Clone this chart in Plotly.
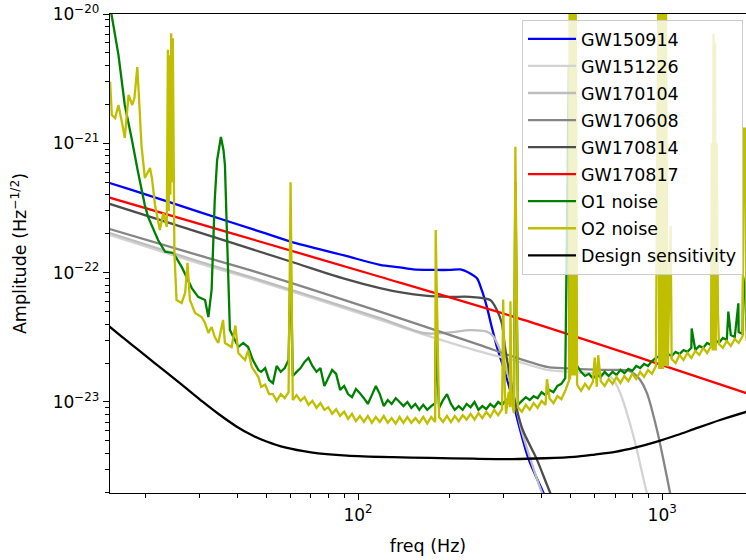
import numpy as np
import plotly.graph_objects as go

# ---------------- data ----------------
gw150914_f = [15, 18, 30, 49.4, 60, 90, 118, 137, 152, 177, 200, 217, 233, 246, 255, 265, 275, 286, 300, 316,
              328, 341, 364, 407, 440]
gw150914_a = [5.0e-22, 4.37e-22, 2.95e-22, 2.02e-22, 1.74e-22, 1.36e-22, 1.15e-22, 1.10e-22, 1.06e-22, 1.05e-22,
              1.05e-22, 1.06e-22, 9.9e-23, 9.05e-23, 7.35e-23, 5.46e-23, 3.82e-23, 2.68e-23, 1.88e-23, 1.24e-23,
              8.7e-24, 6.1e-24, 3.6e-24, 1.98e-24, 1.3e-24]

gw151226_f = [15, 30, 45.8, 118, 166, 252, 324, 418, 537, 658, 692, 728, 805, 891, 930]
gw151226_a = [1.98e-22, 1.18e-22, 8.8e-23, 4.31e-23, 3.3e-23, 2.45e-23, 2.11e-23, 1.77e-23, 1.69e-23, 1.62e-23,
              1.48e-23, 1.17e-23, 5.4e-24, 1.97e-24, 1.4e-24]

gw170104_f = [15, 30, 46, 118, 166, 200, 233, 265, 279, 293, 308, 322, 345, 375, 403, 430]
gw170104_a = [2.05e-22, 1.22e-22, 9.0e-23, 4.45e-23, 3.4e-23, 3.45e-23, 3.6e-23, 3.5e-23, 3.2e-23, 2.52e-23,
              1.77e-23, 1.2e-23, 6.0e-24, 3.2e-24, 1.98e-24, 1.5e-24]

gw170608_f = [15, 30, 45.8, 118, 166, 252, 324, 418, 486, 600, 692, 765, 810, 847, 891, 961, 1036, 1062, 1100]
gw170608_a = [2.2e-22, 1.36e-22, 1.02e-22, 5.0e-23, 3.82e-23, 2.75e-23, 2.24e-23, 1.87e-23, 1.82e-23, 1.78e-23,
              1.77e-23, 1.76e-23, 1.65e-23, 1.48e-23, 1.17e-23, 6.1e-24, 2.64e-24, 1.97e-24, 1.4e-24]

gw170814_f = [15, 30, 60, 90, 118, 140, 166, 200, 233, 272, 286, 297, 304, 316, 331, 348, 387, 429, 460]
gw170814_a = [3.45e-22, 2.05e-22, 1.22e-22, 9.0e-23, 7.6e-23, 7.0e-23, 6.65e-23, 6.5e-23, 6.5e-23, 6.15e-23,
              5.15e-23, 4.06e-23, 2.68e-23, 1.57e-23, 9.2e-24, 6.07e-24, 3.6e-24, 1.97e-24, 1.4e-24]

gw170817_f = [15, 40, 118, 324, 891, 2000]
gw170817_a = [3.85e-22, 1.96e-22, 9.3e-23, 4.57e-23, 2.11e-23, 1.12e-23]

design_f = [15, 17, 18.9, 21.5, 24.4, 27.5, 30.9, 34.7, 39.7, 45, 50, 57.5, 70, 92, 130, 172.5, 240, 321, 410,
            513, 600, 700, 820, 955, 1120, 1303, 1550, 1888, 2000]
design_a = [3.95e-23, 3.1e-23, 2.54e-23, 1.99e-23, 1.57e-23, 1.25e-23, 1.0e-23, 8.1e-24, 6.5e-24, 5.5e-24,
            4.95e-24, 4.45e-24, 4.08e-24, 3.85e-24, 3.74e-24, 3.69e-24, 3.64e-24, 3.62e-24, 3.67e-24,
            3.76e-24, 3.92e-24, 4.11e-24, 4.45e-24, 4.91e-24, 5.55e-24, 6.3e-24, 7.25e-24, 8.37e-24, 8.7e-24]

# noise spectra: low-frequency part, common frequency grid, and narrow lines
o1_low_f = [15.3, 16.3, 17.1, 18.0, 18.9, 19.9, 20.4, 22.0, 23.2, 24.7, 26.3, 28.4, 29.8, 31.4, 32.2, 33.0, 33.8,
            34.4, 35.4, 36.1, 36.5, 37.2, 37.9, 40.4, 41.9, 43.5, 45.1, 47.0]
o1_low_a = [1.15e-20, 4.83e-21, 1.98e-21, 1.10e-21, 6.0e-22, 3.34e-22, 2.7e-22, 1.79e-22, 1.45e-22, 1.42e-22,
            1.11e-22, 7.6e-23, 6.5e-23, 6.15e-23, 4.54e-23, 7.4e-23, 3.7e-22, 7.4e-22, 1.12e-21, 8.9e-22,
            6.8e-22, 1.5e-22, 3.6e-23, 2.66e-23, 2.86e-23, 2.66e-23, 2.11e-23, 1.77e-23]

o2_low_f = [15.3, 15.5, 15.9, 16.3, 16.8, 17.1, 17.6, 18.1, 18.4, 18.8, 19.1, 19.4, 19.9, 20.7, 21.0, 21.5, 22.3,
            22.9, 23.5, 23.7, 23.85, 24.0, 24.15, 24.3, 24.45, 24.6, 24.9, 25.3, 26.3, 27.0, 27.5, 28.0, 29.1,
            30.6, 31.4, 32.2, 33.0, 33.8, 34.7, 36.0, 36.5, 38.4, 39.5, 40.4, 42.5, 43.5, 44.7, 47.0]
o2_low_a = [3.0e-21, 1.66e-21, 1.57e-21, 1.98e-21, 1.39e-21, 1.10e-21, 2.37e-21, 1.98e-21, 2.25e-21, 3.90e-21,
            1.98e-21, 9.7e-22, 5.4e-22, 6.45e-22, 5.4e-22, 3.34e-22, 2.14e-22, 2.90e-22, 2.26e-22, 5.3e-21,
            3.0e-22, 4.8e-21, 4.0e-22, 7.1e-21, 5.0e-22, 6.5e-21, 1.42e-22, 6.15e-23, 5.83e-23, 6.97e-23,
            1.19e-22, 6.15e-23, 4.88e-23, 4.54e-23, 4.08e-23, 3.42e-23, 3.80e-23, 3.18e-23, 2.86e-23, 4.31e-23,
            2.86e-23, 2.66e-23, 3.9e-23, 2.39e-23, 2.11e-23, 2.5e-23, 1.87e-23, 1.56e-23]

noise_freq = [48, 49.5, 51, 52.5, 54, 55.7, 57.4, 59.1, 61, 62.8,
              64.7, 66.7, 68.7, 70.8, 73, 75.2, 77.5, 79.8, 82.2, 84.7,
              87.3, 90, 92.7, 95.5, 98.4, 101.4, 104.5, 107.7, 111, 114.4,
              117.9, 121.5, 125.2, 129, 133, 137, 141, 145.3, 149.7, 154.3,
              159, 163.8, 168.8, 174, 179.3, 184.7, 190.3, 196.1, 202, 208,
              214.3, 220.8, 227.5, 234.4, 241.5, 248.8, 256.3, 264, 272, 280.3,
              288.8, 297.6, 306.6, 315.9, 325.5, 335.4, 345.6, 356, 366.8, 377.9,
              389.4, 401.2, 413.4, 426, 439, 452.3, 466, 480, 494.5, 509.5,
              525, 541, 557.4, 574.3, 591.7, 609.6, 628, 647, 666.6, 686.8,
              707.6, 729, 751, 773.8, 797.2, 821.3, 846.2, 871.8, 898.2, 925.4,
              953.4, 982.3, 1012, 1043, 1074, 1107, 1140, 1175, 1210, 1247,
              1285, 1324, 1364, 1405, 1448, 1492, 1537, 1583, 1631, 1681,
              1732, 1784, 1838, 1894, 1951, 2000]

o1_band = [1.71e-23, 1.83e-23, 1.48e-23, 1.40e-23, 1.90e-23, 1.71e-23, 1.83e-23, 2.11e-23, 1.59e-23, 1.71e-23,
           1.83e-23, 2.04e-23, 2.19e-23, 1.90e-23, 1.71e-23, 1.83e-23, 1.33e-23, 1.53e-23, 1.77e-23, 1.65e-23,
           1.24e-23, 1.33e-23, 1.15e-23, 1.09e-23, 1.26e-23, 1.17e-23, 1.07e-23, 9.65e-24, 1.13e-23, 1.33e-23,
           1.15e-23, 9.3e-24, 1.035e-23, 9.65e-24, 1.07e-23, 1.0e-23, 9.3e-24, 1.0e-23, 9.0e-24, 9.65e-24,
           8.7e-24, 9.5e-24, 8.7e-24, 9.3e-24, 9.8e-24, 9.0e-24, 1.035e-23, 1.15e-23, 9.65e-24, 8.7e-24,
           9.3e-24, 8.7e-24, 9.65e-24, 9.1e-24, 1.0e-23, 8.7e-24, 9.3e-24, 8.8e-24, 9.65e-24, 9.1e-24,
           1.0e-23, 9.5e-24, 1.035e-23, 9.65e-24, 1.035e-23, 9.5e-24, 1.02e-23, 1.09e-23, 1.035e-23, 1.11e-23,
           1.07e-23, 1.19e-23, 1.13e-23, 1.24e-23, 1.19e-23, 1.33e-23, 1.38e-23, 1.53e-23, 2.11e-23, 2.11e-23,
           1.90e-23, 1.71e-23, 1.59e-23, 1.65e-23, 1.53e-23, 1.62e-23, 1.56e-23, 1.71e-23, 1.59e-23, 1.71e-23,
           1.62e-23, 1.77e-23, 1.67e-23, 1.80e-23, 1.74e-23, 1.90e-23, 1.83e-23, 1.97e-23, 1.90e-23, 2.07e-23,
           2.19e-23, 2.27e-23, 2.19e-23, 2.35e-23, 2.27e-23, 2.44e-23, 2.35e-23, 2.52e-23, 2.44e-23, 2.62e-23,
           2.52e-23, 2.71e-23, 2.62e-23, 2.86e-23, 2.76e-23, 3.02e-23, 2.86e-23, 3.13e-23, 3.02e-23, 3.30e-23,
           3.18e-23, 3.48e-23, 3.36e-23, 3.61e-23, 3.48e-23, 3.74e-23]

o2_band = [1.31e-23, 1.36e-23, 1.15e-23, 1.15e-23, 1.02e-23, 1.15e-23, 1.07e-23, 1.19e-23, 1.035e-23, 1.13e-23,
           1.02e-23, 1.09e-23, 9.5e-24, 1.02e-23, 9.0e-24, 9.8e-24, 8.7e-24, 9.1e-24, 8.1e-24, 8.8e-24,
           7.8e-24, 8.4e-24, 7.4e-24, 8.1e-24, 7.1e-24, 7.8e-24, 7.0e-24, 7.8e-24, 6.9e-24, 7.65e-24,
           7.0e-24, 7.8e-24, 6.9e-24, 7.5e-24, 6.8e-24, 7.65e-24, 6.9e-24, 7.65e-24, 6.9e-24, 7.5e-24,
           6.9e-24, 7.65e-24, 6.8e-24, 7.65e-24, 7.0e-24, 7.65e-24, 7.0e-24, 7.8e-24, 7.0e-24, 7.8e-24,
           7.1e-24, 7.9e-24, 7.3e-24, 8.1e-24, 7.3e-24, 8.2e-24, 7.5e-24, 8.4e-24, 7.65e-24, 8.7e-24,
           7.9e-24, 8.8e-24, 8.1e-24, 9.1e-24, 8.2e-24, 9.1e-24, 8.4e-24, 9.5e-24, 8.7e-24, 9.8e-24,
           9.0e-24, 1.02e-23, 9.5e-24, 1.07e-23, 9.8e-24, 1.11e-23, 1.05e-23, 1.22e-23, 1.48e-23, 1.6e-23,
           1.36e-23, 1.22e-23, 1.38e-23, 1.26e-23, 1.43e-23, 1.31e-23, 1.45e-23, 1.33e-23, 1.51e-23, 1.38e-23,
           1.56e-23, 1.40e-23, 1.59e-23, 1.45e-23, 1.65e-23, 1.51e-23, 1.71e-23, 1.56e-23, 1.77e-23, 1.65e-23,
           1.90e-23, 1.5e-20, 1.5e-20, 1.87e-23, 2.15e-23, 2.0e-23, 2.31e-23, 2.11e-23, 2.39e-23, 2.19e-23,
           2.48e-23, 2.31e-23, 2.62e-23, 2.39e-23, 2.71e-23, 6.0e-21, 2.81e-23, 2.62e-23, 2.96e-23, 2.71e-23,
           3.07e-23, 2.86e-23, 3.24e-23, 2.96e-23, 3.36e-23, 3.24e-23]

o1_line_f = [60.0, 180.0, 329.0, 493.0, 497.0, 505.0, 985.0, 1000.0, 1250.0, 1650.0, 1780.0, 1845.0, 1870.0]
o1_line_a = [1.3e-22, 3.0e-23, 5.0e-22, 4.0e-21, 1.0e-21, 2.0e-21, 1.0e-21, 5.0e-22, 3.7e-23, 5.0e-23,
             5.8e-23, 9.3e-23, 7.5e-23]

o2_line_f = [60.0, 180.0, 300.0, 304.0, 313.0, 317.0, 320.0, 329.0,
             418.0,
             496.0, 498.0, 500.0, 502.0, 504.0, 506.0, 508.0, 511.0, 513.0, 515.0, 517.0, 519.0, 521.0, 523.0,
             600.0, 616.0,
             972.0, 978.0, 986.0, 990.0, 994.0, 998.0, 1002.0, 1006.0, 1016.0, 1020.0, 1024.0, 1028.0, 1034.0,
             1066.0,
             1455.0, 1465.0, 1475.0, 1483.0, 1500.0, 1510.0, 1525.0,
             1855.0, 1875.0]
o2_line_a = [5.0e-22, 2.14e-22, 6.2e-23, 1.2e-23, 1.2e-23, 6.0e-23, 1.0e-23, 9.4e-22,
             1.5e-23,
             2.0e-20, 1.5e-23, 2.0e-20, 1.6e-23, 2.0e-20, 1.6e-23, 2.0e-20, 2.0e-20, 1.6e-23, 2.0e-20, 1.6e-23,
             2.0e-20, 3.0e-21, 2.0e-22,
             2.2e-23, 2.3e-23,
             2.0e-20, 1.8e-23, 2.0e-20, 1.8e-23, 2.0e-20, 1.8e-23, 2.0e-20, 1.8e-23, 1.9e-23, 2.0e-20,
             1.9e-23, 2.0e-20, 8.0e-22,
             2.3e-22,
             1.0e-21, 2.5e-23, 7.0e-21, 2.5e-23, 2.5e-23, 1.0e-21, 5.0e-23,
             1.3e-21, 1.3e-21]

x_tick_vals = [100, 1000]
x_tick_text = ["10<sup>2</sup>", "10<sup>3</sup>"]
y_tick_vals = [1e-23, 1e-22, 1e-21, 1e-20]
y_tick_text = ["10<sup>\u221223</sup>", "10<sup>\u221222</sup>", "10<sup>\u221221</sup>", "10<sup>\u221220</sup>"]


def merge(*parts):
    f, a = [], []
    for ff, aa in parts:
        f += list(ff)
        a += list(aa)
    idx = np.argsort(f, kind="stable")
    return [f[i] for i in idx], [a[i] for i in idx]


o1_f, o1_a = merge((o1_low_f, o1_low_a), (noise_freq, o1_band), (o1_line_f, o1_line_a))
o2_f, o2_a = merge((o2_low_f, o2_low_a), (noise_freq, o2_band), (o2_line_f, o2_line_a))

series = [
    ("GW150914", gw150914_f, gw150914_a, "#0000ff", "spline"),
    ("GW151226", gw151226_f, gw151226_a, "#d3d3d3", "spline"),
    ("GW170104", gw170104_f, gw170104_a, "#bdbdbd", "spline"),
    ("GW170608", gw170608_f, gw170608_a, "#858585", "spline"),
    ("GW170814", gw170814_f, gw170814_a, "#4d4d4d", "spline"),
    ("GW170817", gw170817_f, gw170817_a, "#ff0000", "spline"),
    ("O1 noise", o1_f, o1_a, "#008000", "linear"),
    ("O2 noise", o2_f, o2_a, "#bfbf00", "linear"),
    ("Design sensitivity", design_f, design_a, "#000000", "spline"),
]

FONT = "DejaVu Sans"
fig = go.Figure()
for name, f, a, col, shape in series:
    line = dict(color=col, width=2.3, shape=shape, simplify=False)
    if shape == "spline":
        line["smoothing"] = 0.8
    fig.add_trace(go.Scatter(x=f, y=a, mode="lines", name=name, line=line,
                             legendgroup=name))

x_minor = [20, 30, 40, 50, 60, 70, 80, 90, 200, 300, 400, 500, 600, 700, 800, 900]
y_minor = [m * 10.0 ** e for e in (-24, -23, -22, -21) for m in range(2, 10)]

fig.update_layout(
    width=746, height=560,
    margin=dict(l=110, r=0, t=14, b=67),
    paper_bgcolor="white", plot_bgcolor="white",
    font=dict(family=FONT, size=17, color="black"),
    showlegend=True,
    legend=dict(x=(743 - 110) / 636, xanchor="right", y=(493 - 20) / 479, yanchor="top",
                bgcolor="rgba(255,255,255,0.8)", bordercolor="#cccccc", borderwidth=1,
                font=dict(family=FONT, size=17.5, color="black"),
                itemwidth=48, tracegroupgap=1.3, traceorder="grouped"),
    xaxis=dict(type="log", range=[np.log10(15.29), np.log10(1886)],
               tickmode="array", tickvals=x_tick_vals, ticktext=x_tick_text,
               ticks="outside", ticklen=6, tickwidth=1.2, tickcolor="black",
               showline=True, linecolor="black", linewidth=1.3, mirror=True,
               showgrid=False, zeroline=False,
               tickfont=dict(family=FONT, size=17),
               minor=dict(tickmode="array", tickvals=x_minor, ticks="outside", ticklen=3.5,
                          tickwidth=1, tickcolor="black", showgrid=False),
               title=dict(text="freq (Hz)", font=dict(family=FONT, size=17.5), standoff=16)),
    yaxis=dict(type="log", range=[-23.704, -19.9995],
               tickmode="array", tickvals=y_tick_vals, ticktext=y_tick_text,
               ticks="outside", ticklen=6, tickwidth=1.2, tickcolor="black",
               showline=True, linecolor="black", linewidth=1.3, mirror=True,
               showgrid=False, zeroline=False,
               tickfont=dict(family=FONT, size=17),
               minor=dict(tickmode="array", tickvals=y_minor, ticks="outside", ticklen=3.5,
                          tickwidth=1, tickcolor="black", showgrid=False),
               title=dict(text="Amplitude (Hz<sup>\u22121/2</sup>)", font=dict(family=FONT, size=17.5),
                          standoff=21)),
)

fig.write_html("out.html")
